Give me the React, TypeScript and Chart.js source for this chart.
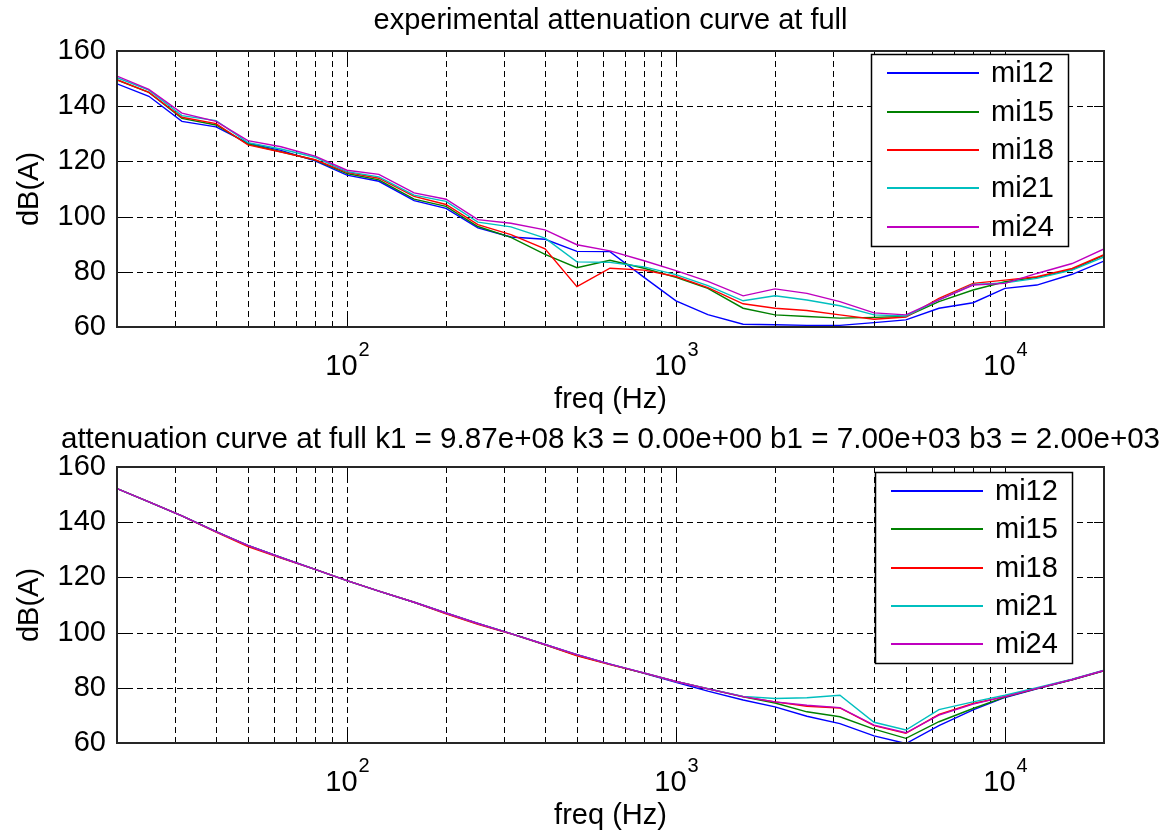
import React, { useEffect, useRef } from 'react';
import { Chart, registerables } from 'chart.js';

Chart.register(...registerables);

// ---------------- data ----------------
const FREQ_HZ = [20, 25, 31.5, 40, 50, 63, 80, 100, 125, 160, 200, 250, 315, 400, 500, 630, 800, 1000, 1250, 1600, 2000, 2500, 3150, 4000, 5000, 6300, 8000, 10000, 12500, 16000, 20000];

const SERIES_NAMES = ['mi12', 'mi15', 'mi18', 'mi21', 'mi24'];
const SERIES_COLORS = ['#0000ff', '#008000', '#ff0000', '#00bfbf', '#bf00bf'];

// experimental attenuation (top panel)
const EXP_MI12 = [148.1, 143.6, 134.5, 132.5, 126.6, 124.0, 120.2, 115.0, 112.8, 105.8, 103.0, 95.9, 92.6, 91.8, 87.4, 87.3, 78.0, 69.5, 64.5, 61.0, 60.8, 60.6, 60.6, 61.6, 62.6, 66.8, 68.8, 74.0, 75.2, 79.1, 83.9];
const EXP_MI15 = [149.5, 145.0, 135.6, 133.2, 126.3, 123.5, 120.5, 115.6, 113.3, 106.3, 103.7, 96.4, 92.5, 86.3, 81.5, 84.2, 81.3, 78.0, 74.0, 66.8, 64.4, 63.8, 63.2, 63.5, 63.8, 69.2, 73.4, 76.4, 78.0, 80.8, 86.0];
const EXP_MI18 = [149.6, 145.0, 136.0, 133.7, 126.0, 123.4, 120.6, 116.0, 113.9, 107.3, 104.4, 97.1, 93.5, 88.3, 74.6, 81.3, 80.6, 78.3, 74.3, 68.4, 66.8, 66.0, 64.4, 62.8, 63.6, 70.4, 75.8, 77.0, 78.2, 81.2, 86.2];
const EXP_MI21 = [150.3, 145.8, 136.6, 134.8, 126.8, 124.5, 121.5, 116.3, 114.4, 107.8, 105.5, 98.0, 96.3, 92.2, 83.6, 83.4, 81.8, 79.0, 75.0, 69.5, 71.3, 69.8, 67.7, 64.4, 64.0, 69.8, 75.4, 76.0, 77.6, 80.6, 85.4];
const EXP_MI24 = [150.9, 146.1, 137.5, 134.5, 127.5, 125.3, 121.9, 116.8, 115.3, 108.6, 106.3, 98.9, 97.6, 95.2, 89.8, 87.6, 84.0, 80.4, 76.5, 71.3, 73.8, 72.2, 69.2, 65.1, 64.4, 69.8, 75.2, 75.8, 79.4, 83.0, 88.3];

// fitted attenuation (bottom panel)
const FIT_MI12 = [152.2, 147.4, 142.3, 136.6, 131.6, 127.2, 122.9, 118.8, 115.0, 111.0, 107.1, 103.3, 99.6, 95.7, 92.0, 88.6, 85.2, 82.0, 78.8, 75.6, 73.1, 69.7, 67.0, 62.6, 59.8, 66.3, 72.0, 76.5, 79.6, 82.9, 86.2];
const FIT_MI15 = [152.2, 147.4, 142.3, 136.6, 131.5, 127.2, 122.9, 118.8, 115.0, 111.0, 107.0, 103.2, 99.6, 95.6, 91.8, 88.5, 85.3, 82.3, 79.6, 76.7, 74.5, 71.3, 69.5, 65.0, 61.7, 67.7, 72.5, 76.6, 79.7, 82.9, 86.2];
const FIT_MI18 = [152.2, 147.4, 142.3, 136.4, 131.2, 127.0, 122.9, 118.8, 115.0, 111.0, 106.8, 103.0, 99.6, 95.6, 91.6, 88.4, 85.3, 82.3, 79.7, 76.8, 74.9, 73.3, 72.7, 66.3, 63.5, 70.4, 74.3, 76.8, 79.8, 83.0, 86.3];
const FIT_MI21 = [152.2, 147.4, 142.3, 136.6, 131.6, 127.2, 122.9, 118.8, 115.0, 111.0, 107.1, 103.3, 99.6, 95.7, 92.0, 88.6, 85.4, 82.3, 79.7, 76.9, 76.1, 76.4, 77.3, 67.5, 64.7, 72.1, 74.9, 77.3, 80.0, 83.1, 86.4];
const FIT_MI24 = [152.2, 147.4, 142.3, 136.6, 131.6, 127.2, 122.9, 118.8, 115.0, 111.0, 107.1, 103.3, 99.6, 95.7, 92.0, 88.6, 85.4, 82.3, 79.6, 76.8, 74.9, 73.7, 72.8, 66.5, 63.7, 70.1, 74.1, 76.8, 79.8, 83.0, 86.3];

// axes
const X_MIN = 20;
const X_MAX = 20000;
const Y_MIN = 60;
const Y_MAX = 160;
const Y_TICKS = [60, 80, 100, 120, 140, 160];
const Y_TICK_LABELS = ['60', '80', '100', '120', '140', '160'];
const X_GRID = [30, 40, 50, 60, 70, 80, 90, 100, 200, 300, 400, 500, 600, 700, 800, 900, 1000, 2000, 3000, 4000, 5000, 6000, 7000, 8000, 9000, 10000];
const X_DECADES = [100, 1000, 10000];
const X_LABEL_BASE = '10';
const X_LABEL_EXPONENTS = ['2', '3', '4'];

const TITLE_TOP = 'experimental attenuation curve at full';
const TITLE_BOTTOM = 'attenuation curve at full k1 = 9.87e+08 k3 = 0.00e+00 b1 = 7.00e+03 b3 = 2.00e+03';
const X_AXIS_TITLE = 'freq (Hz)';
const Y_AXIS_TITLE = 'dB(A)';

// ---------------- drawing helpers ----------------
const FONT = '"Liberation Sans", Arial, Helvetica, sans-serif';
const FONT_SIZE = 29;

function text(ctx: CanvasRenderingContext2D, s: string, x: number, y: number, size: number, align: CanvasTextAlign = 'center', baseline: CanvasTextBaseline = 'alphabetic') {
  ctx.save();
  ctx.font = `${size}px ${FONT}`;
  ctx.fillStyle = '#000';
  ctx.textAlign = align;
  ctx.textBaseline = baseline;
  ctx.fillText(s, x, y);
  ctx.restore();
}

type Panel = {
  key: string;
  title: string;
  titleSize: number;
  titleBaseline: number;
  height: number;
  legend: { left: number; top: number; width: number; height: number };
  series: number[][];
};

function axesPlugin(p: Panel) {
  return {
    id: 'matlabAxes' + p.key,
    beforeDatasetsDraw(chart: any) {
      const { ctx, chartArea: a, scales } = chart;
      const xs = scales.x;
      const ys = scales.y;
      ctx.save();
      ctx.strokeStyle = '#000';
      ctx.lineWidth = 1;
      ctx.setLineDash([6, 4]);
      for (const v of X_GRID) {
        const px = Math.round(xs.getPixelForValue(v)) + 0.5;
        ctx.beginPath();
        ctx.moveTo(px, a.bottom);
        ctx.lineTo(px, a.top);
        ctx.stroke();
      }
      for (const v of Y_TICKS) {
        if (v === Y_MIN || v === Y_MAX) continue;
        const py = Math.round(ys.getPixelForValue(v)) + 0.5;
        ctx.beginPath();
        ctx.moveTo(a.left, py);
        ctx.lineTo(a.right, py);
        ctx.stroke();
      }
      ctx.restore();
    },
    afterDatasetsDraw(chart: any) {
      const { ctx, chartArea: a, scales } = chart;
      const xs = scales.x;
      const ys = scales.y;
      ctx.save();
      ctx.setLineDash([]);
      ctx.strokeStyle = '#000';
      // tick marks
      ctx.lineWidth = 1;
      for (const v of X_GRID) {
        const px = Math.round(xs.getPixelForValue(v)) + 0.5;
        const len = X_DECADES.includes(v) ? 10 : 5;
        ctx.beginPath();
        ctx.moveTo(px, a.bottom);
        ctx.lineTo(px, a.bottom - len);
        ctx.moveTo(px, a.top);
        ctx.lineTo(px, a.top + len);
        ctx.stroke();
      }
      for (const v of Y_TICKS) {
        const py = Math.round(ys.getPixelForValue(v)) + 0.5;
        ctx.beginPath();
        ctx.moveTo(a.left, py);
        ctx.lineTo(a.left + 10, py);
        ctx.moveTo(a.right, py);
        ctx.lineTo(a.right - 10, py);
        ctx.stroke();
      }
      // box
      ctx.lineWidth = 2;
      ctx.strokeStyle = '#262626';
      ctx.strokeRect(Math.round(a.left), Math.round(a.top), Math.round(a.right - a.left), Math.round(a.bottom - a.top));
      ctx.restore();

      // y tick labels
      Y_TICKS.forEach((v, i) => {
        text(ctx, Y_TICK_LABELS[i], a.left - 11, ys.getPixelForValue(v), FONT_SIZE, 'right', 'middle');
      });
      // x tick labels with superscript exponent
      X_DECADES.forEach((v, i) => {
        const gx = xs.getPixelForValue(v);
        ctx.save();
        ctx.font = `${FONT_SIZE}px ${FONT}`;
        const w1 = ctx.measureText(X_LABEL_BASE).width;
        ctx.font = `20px ${FONT}`;
        const w2 = ctx.measureText(X_LABEL_EXPONENTS[i]).width;
        ctx.restore();
        const start = gx - (w1 + w2) / 2;
        const base = a.bottom + 48;
        text(ctx, X_LABEL_BASE, start, base, FONT_SIZE, 'left');
        text(ctx, X_LABEL_EXPONENTS[i], start + w1 + 1, base - 19, 20, 'left');
      });
      // axis titles
      const cx = (a.left + a.right) / 2;
      text(ctx, X_AXIS_TITLE, cx, a.bottom + 81, FONT_SIZE, 'center');
      ctx.save();
      ctx.translate(38, (a.top + a.bottom) / 2);
      ctx.rotate(-Math.PI / 2);
      text(ctx, Y_AXIS_TITLE, 0, 0, FONT_SIZE, 'center');
      ctx.restore();
      // panel title
      text(ctx, p.title, cx, p.titleBaseline, p.titleSize, 'center');

      // legend
      const L = p.legend;
      ctx.save();
      ctx.fillStyle = '#fff';
      ctx.fillRect(L.left, L.top, L.width, L.height);
      ctx.lineWidth = 1.5;
      ctx.strokeStyle = '#000';
      ctx.strokeRect(L.left + 0.5, L.top + 0.5, L.width, L.height);
      const rowH = L.height / chart.data.datasets.length;
      chart.data.datasets.forEach((ds: any, i: number) => {
        const y = Math.round(L.top + rowH * (i + 0.5));
        ctx.strokeStyle = ds.borderColor;
        ctx.lineWidth = 2;
        ctx.beginPath();
        ctx.moveTo(L.left + 16, y);
        ctx.lineTo(L.left + 108, y);
        ctx.stroke();
        text(ctx, ds.label, L.left + 120, y + 1, FONT_SIZE, 'left', 'middle');
      });
      ctx.restore();
    },
  };
}

function buildConfig(p: Panel): any {
  return {
    type: 'line',
    data: {
      datasets: SERIES_NAMES.map((name, i) => ({
        label: name,
        data: FREQ_HZ.map((f, j) => ({ x: f, y: p.series[i][j] })),
        borderColor: SERIES_COLORS[i],
        backgroundColor: SERIES_COLORS[i],
        borderWidth: 1.4,
        pointRadius: 0,
        tension: 0,
        fill: false,
        order: SERIES_NAMES.length - i,
      })),
    },
    options: {
      responsive: false,
      animation: false,
      devicePixelRatio: 1,
      layout: { padding: { top: 51, right: 62, left: 0, bottom: 0 } },
      plugins: {
        legend: { display: false },
        title: { display: false },
        tooltip: { enabled: false },
      },
      scales: {
        x: {
          type: 'logarithmic',
          min: X_MIN,
          max: X_MAX,
          grid: { display: false },
          border: { display: false },
          ticks: { display: false },
          afterFit: (s: any) => {
            s.height = p.height - 327;
          },
        },
        y: {
          type: 'linear',
          min: Y_MIN,
          max: Y_MAX,
          grid: { display: false },
          border: { display: false },
          ticks: { display: false },
          afterFit: (s: any) => {
            s.width = 117;
          },
        },
      },
    },
    plugins: [axesPlugin(p)],
  };
}

const TOP_PANEL: Panel = {
  key: 'top',
  title: TITLE_TOP,
  titleSize: 29,
  titleBaseline: 29,
  height: 416,
  legend: { left: 871, top: 54, width: 197, height: 192 },
  series: [EXP_MI12, EXP_MI15, EXP_MI18, EXP_MI21, EXP_MI24],
};

const BOTTOM_PANEL: Panel = {
  key: 'bottom',
  title: TITLE_BOTTOM,
  titleSize: 29.6,
  titleBaseline: 32,
  height: 417,
  legend: { left: 875, top: 56, width: 197, height: 191 },
  series: [FIT_MI12, FIT_MI15, FIT_MI18, FIT_MI21, FIT_MI24],
};

export default function App() {
  const topRef = useRef<HTMLCanvasElement>(null);
  const botRef = useRef<HTMLCanvasElement>(null);

  useEffect(() => {
    const c1 = new Chart(topRef.current as HTMLCanvasElement, buildConfig(TOP_PANEL));
    const c2 = new Chart(botRef.current as HTMLCanvasElement, buildConfig(BOTTOM_PANEL));
    return () => {
      c1.destroy();
      c2.destroy();
    };
  }, []);

  return (
    <div style={{ position: 'absolute', left: 0, top: 0, width: 1166, height: 833, background: '#fff' }}>
      <canvas ref={topRef} width={1166} height={416} style={{ position: 'absolute', left: 0, top: 0, width: 1166, height: 416 }} />
      <canvas ref={botRef} width={1166} height={417} style={{ position: 'absolute', left: 0, top: 416, width: 1166, height: 417 }} />
    </div>
  );
}
